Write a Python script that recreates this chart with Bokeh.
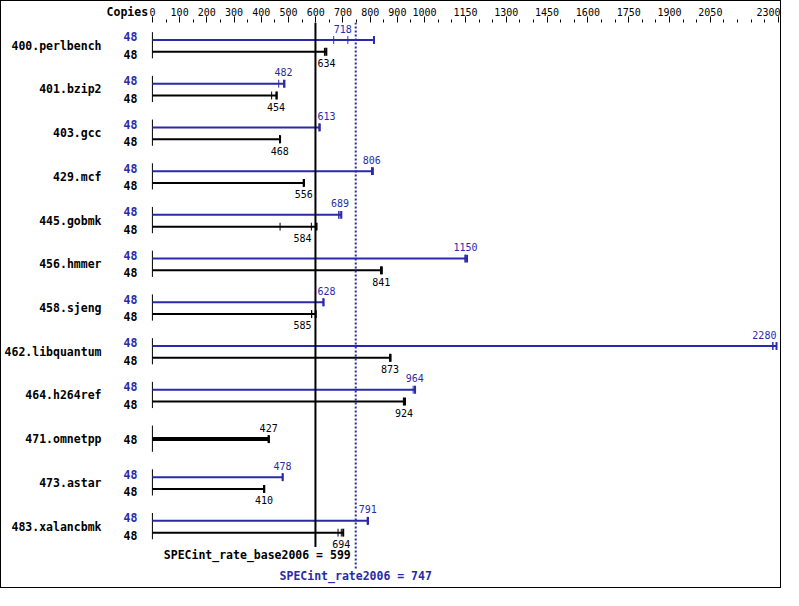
from bokeh.plotting import figure
from bokeh.models import ColumnDataSource, Range1d, LinearAxis, FixedTicker
from bokeh.core.properties import value, field
from bokeh.embed import file_html
from bokeh.resources import INLINE

# ---------------- data ----------------
benchmarks = ["400.perlbench", "401.bzip2", "403.gcc", "429.mcf", "445.gobmk", "456.hmmer",
              "458.sjeng", "462.libquantum", "464.h264ref", "471.omnetpp", "473.astar", "483.xalancbmk"]
copies_base = [48, 48, 48, 48, 48, 48, 48, 48, 48, 48, 48, 48]
copies_peak = [48, 48, 48, 48, 48, 48, 48, 48, 48, None, 48, 48]
base_median = [634, 454, 468, 556, 584, 841, 585, 873, 924, 427, 410, 694]
peak_median = [718, 482, 613, 806, 689, 1150, 628, 2280, 964, None, 478, 791]
base_runs = [[632, 634, 639], [438, 454, 457], [467, 468, 469], [554, 556, 557],
             [469, 584, 603], [838, 841, 843], [585, 585, 600], [872, 873, 875],
             [922, 924, 928], [425, 427, 428], [409, 410, 411], [682, 694, 701]]
peak_runs = [[666, 718, 814], [464, 482, 485], [612, 613, 615], [805, 806, 810],
             [684, 689, 694], [1148, 1150, 1156], [627, 628, 629], [2279, 2280, 2293],
             [958, 964, 965], None, [477, 478, 479], [789, 791, 792]]
base_score = 599
peak_score = 747
major_ticks = [0, 100, 200, 300, 400, 500, 600, 700, 800, 900, 1000,
               1150, 1300, 1450, 1600, 1750, 1900, 2050, 2300]
minor_ticks = [50, 150, 250, 350, 450, 550, 650, 750, 850, 950,
               1050, 1100, 1200, 1250, 1350, 1400, 1500, 1550, 1650, 1700,
               1800, 1850, 1950, 2000, 2100, 2150, 2200, 2250]
header_label = "Copies"
base_label = "SPECint_rate_base2006 = 599"
peak_label = "SPECint_rate2006 = 747"

# ---------------- style ----------------
BLUE = "#2a2aa8"
BLACK = "#000000"
MONO = value("DejaVu Sans Mono")
XMAX = 2300
n = len(benchmarks)

p = figure(width=781, height=588, output_backend="svg", toolbar_location=None,
           x_axis_location=None, y_axis_location=None,
           x_range=Range1d(-143, 2315), y_range=Range1d(n - 1 + 1.44, -0.53),
           min_border_left=104, min_border_right=0, min_border_bottom=0, min_border_top=19)
p.outline_line_color = None
p.xgrid.visible = False
p.ygrid.visible = False
p.background_fill_color = "white"
p.border_fill_color = "white"
p.styles = {"border": "1px solid black"}

# top value axis
ax = LinearAxis(ticker=FixedTicker(ticks=major_ticks, minor_ticks=minor_ticks))
ax.axis_line_color = None
ax.major_tick_out = 6
ax.major_tick_in = 0
ax.minor_tick_out = 3
ax.minor_tick_in = 0
ax.major_tick_line_color = BLACK
ax.minor_tick_line_color = BLACK
ax.major_label_standoff = 1
ax.major_label_text_font = "DejaVu Sans Mono"
ax.major_label_text_font_size = "10px"
ax.major_label_text_color = BLACK
# header text sits at the start of the axis; leading no-break spaces nudge it right
ax.axis_label = "\u00a0" * 4 + header_label
ax.axis_label_text_font = "DejaVu Sans Mono"
ax.axis_label_text_font_size = "11.5px"
ax.axis_label_text_font_style = "bold"
ax.axis_label_text_color = BLACK
ax.axis_label_standoff = -14
ax.axis_label_align = "start"
p.add_layout(ax, "above")

# left benchmark-name axis
yax = LinearAxis(ticker=FixedTicker(ticks=list(range(n))),
                 major_label_overrides={i: b for i, b in enumerate(benchmarks)})
yax.axis_line_color = None
yax.major_tick_line_color = None
yax.minor_tick_line_color = None
yax.major_label_standoff = 6
yax.major_label_text_font = "DejaVu Sans Mono"
yax.major_label_text_font_size = "11.5px"
yax.major_label_text_font_style = "bold"
yax.major_label_text_color = BLACK
p.add_layout(yax, "left")

BAR_OFF = 0.13
TICK_H = 0.09
LABEL_GAP = 0.26


def label_place(v):
    if abs(v - base_score) < 40:
        return (base_score, "left", 2) if v >= base_score else (base_score, "right", -4)
    if abs(v - peak_score) < 40:
        return (peak_score, "left", 2) if v >= peak_score else (peak_score, "right", -4)
    if v > XMAX - 40:
        return (XMAX, "right", -2)
    return (v, "center", 0)


bars = {"blue": dict(x0=[], x1=[], y=[], w=[]), "black": dict(x0=[], x1=[], y=[], w=[])}
ticks = {"blue": dict(x=[], y0=[], y1=[], w=[]), "black": dict(x=[], y0=[], y1=[], w=[])}
vals = {"blue": dict(x=[], y=[], t=[], a=[], o=[]), "black": dict(x=[], y=[], t=[], a=[], o=[])}
copies = {"blue": dict(x=[], y=[], t=[]), "black": dict(x=[], y=[], t=[])}
zero = dict(x=[], y0=[], y1=[])

for i, name in enumerate(benchmarks):
    has_peak = peak_runs[i] is not None
    zero["x"].append(0)
    zero["y0"].append(i - 0.31)
    zero["y1"].append(i + 0.29)
    series = []
    if has_peak:
        series.append(("blue", peak_runs[i], peak_median[i], copies_peak[i], i - BAR_OFF, -1, 2, i - 0.2))
        series.append(("black", base_runs[i], base_median[i], copies_base[i], i + BAR_OFF + 0.01, 1, 2, i + 0.2))
    else:
        series.append(("black", base_runs[i], base_median[i], copies_base[i], i, -1, 4, i))
    for key, runs, med, cp, y, side, lw, cy in series:
        mx = max(runs)
        bars[key]["x0"].append(0)
        bars[key]["x1"].append(mx)
        bars[key]["y"].append(y)
        bars[key]["w"].append(lw)
        for r in runs:
            ticks[key]["x"].append(r)
            ticks[key]["y0"].append(y - TICK_H)
            ticks[key]["y1"].append(y + TICK_H)
            ticks[key]["w"].append(2 if r == mx else 1)
        lx, la, lo = label_place(med)
        vals[key]["x"].append(lx)
        vals[key]["y"].append(y + side * LABEL_GAP)
        vals[key]["t"].append(str(med))
        vals[key]["a"].append(la)
        vals[key]["o"].append(lo)
        copies[key]["x"].append(-55)
        copies[key]["y"].append(cy)
        copies[key]["t"].append(str(cp))

# left zero ticks
p.segment(x0="x", y0="y0", x1="x", y1="y1", source=ColumnDataSource(zero),
          line_color=BLACK, line_width=1)

for key, col in (("blue", BLUE), ("black", BLACK)):
    p.segment(x0="x0", y0="y", x1="x1", y1="y", source=ColumnDataSource(bars[key]),
              line_color=col, line_width="w", line_cap="butt")
    p.segment(x0="x", y0="y0", x1="x", y1="y1", source=ColumnDataSource(ticks[key]),
              line_color=col, line_width="w", line_cap="butt")
    p.text(x="x", y="y", text="t", source=ColumnDataSource(vals[key]),
           text_align=field("a"), x_offset=field("o"), text_baseline="middle",
           text_font=MONO, text_font_size="10px", text_color=col)
    p.text(x="x", y="y", text="t", source=ColumnDataSource(copies[key]),
           text_align="right", text_baseline="middle", text_font=MONO,
           text_font_size="11.5px", text_font_style="bold", text_color=col)

# reference lines
p.segment(x0=[base_score], y0=[-0.53], x1=[base_score], y1=[n - 1 + 0.47],
          line_color=BLACK, line_width=2)
p.segment(x0=[peak_score], y0=[-0.53], x1=[peak_score], y1=[n - 1 + 0.96],
          line_color=BLUE, line_width=2, line_dash="2 2")

p.text(x=[peak_score], y=[n - 1 + 0.64], text=[base_label], x_offset=-5,
       text_align="right", text_baseline="middle", text_font=MONO,
       text_font_size="11.5px", text_font_style="bold", text_color=BLACK)
p.text(x=[peak_score], y=[n - 1 + 1.13], text=[peak_label],
       text_align="center", text_baseline="middle", text_font=MONO,
       text_font_size="11.5px", text_font_style="bold", text_color=BLUE)

open("out.html", "w").write(file_html(p, INLINE))
